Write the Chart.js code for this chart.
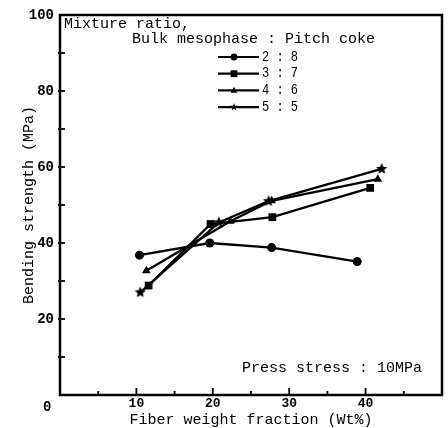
<!DOCTYPE html>
<html>
<head>
<meta charset="utf-8">
<script src="https://cdn.jsdelivr.net/npm/chart.js@4.4.0/dist/chart.umd.min.js"></script>
<style>
  html, body { margin: 0; padding: 0; background: #fff; }
  #wrap { width: 448px; height: 428px; }
</style>
</head>
<body>
<div id="wrap"><canvas id="myChart" width="448" height="428"></canvas></div>
<script>
'use strict';

// mixture ratio (bulk mesophase : pitch coke)
const ratioLabels = ['2 : 8', '3 : 7', '4 : 6', '5 : 5'];

// fiber weight fraction (Wt%) and bending strength (MPa)
const fiber28 = [10.4, 19.6, 27.7, 38.9];
const strength28 = [36.8, 40.0, 38.8, 35.1];
const fiber37 = [11.6, 19.7, 27.8, 40.6];
const strength37 = [28.8, 45.0, 46.8, 54.5];
const fiber46 = [11.3, 22.3, 27.7, 41.6];
const strength46 = [32.7, 45.7, 51.1, 56.8];
const fiber55 = [10.5, 20.8, 27.3, 42.1];
const strength55 = [27.0, 45.4, 51.0, 59.5];

const xTickLabels = ['10', '20', '30', '40'];
const yTickLabels = ['20', '40', '60', '80', '100'];

const FONT = '"Liberation Mono", "DejaVu Sans Mono", monospace';

// filled 5 point star, chart.js 'star' is only strokes
function makeStar(r) {
  const c = document.createElement('canvas');
  c.width = c.height = Math.ceil(r * 2 + 2);
  const g = c.getContext('2d');
  const cx = c.width / 2, cy = c.height / 2;
  g.beginPath();
  for (let i = 0; i < 10; i++) {
    const a = -Math.PI / 2 + i * Math.PI / 5;
    const rr = i % 2 ? r * 0.45 : r;
    g.lineTo(cx + rr * Math.cos(a), cy + rr * Math.sin(a));
  }
  g.closePath();
  g.fillStyle = '#000';
  g.fill();
  return c;
}

function toPoints(xs, ys) {
  return xs.map((x, i) => ({x: x, y: ys[i]}));
}

function series(label, xs, ys, style, radius) {
  return {
    label: label,
    data: toPoints(xs, ys),
    borderColor: '#000',
    backgroundColor: '#000',
    borderWidth: 2.3,
    tension: 0,
    pointStyle: style,
    pointRadius: radius,
    pointBorderWidth: 0,
    pointBackgroundColor: '#000'
  };
}

const datasets = [
  series(ratioLabels[0], fiber28, strength28, 'circle', 4.5),
  series(ratioLabels[1], fiber37, strength37, 'rect', 5.5),
  series(ratioLabels[2], fiber46, strength46, 'triangle', 5),
  series(ratioLabels[3], fiber55, strength55, makeStar(6), 6)
];

function drawMarker(ctx, style, x, y, r) {
  ctx.beginPath();
  if (style === 'circle') {
    ctx.arc(x, y, r, 0, Math.PI * 2);
  } else if (style === 'rect') {
    ctx.rect(x - r, y - r, 2 * r, 2 * r);
  } else if (style === 'triangle') {
    ctx.moveTo(x, y - r * 1.1);
    ctx.lineTo(x + r, y + r * 0.7);
    ctx.lineTo(x - r, y + r * 0.7);
    ctx.closePath();
  } else {
    for (let i = 0; i < 10; i++) {
      const a = -Math.PI / 2 + i * Math.PI / 5;
      const rr = i % 2 ? r * 0.45 : r * 1.2;
      ctx.lineTo(x + rr * Math.cos(a), y + rr * Math.sin(a));
    }
    ctx.closePath();
  }
  ctx.fill();
}

// frame, inward ticks, corner zero and the text block
const decorPlugin = {
  id: 'decor',
  afterDraw(chart) {
    const ctx = chart.ctx;
    const a = chart.chartArea;
    const xs = chart.scales.x, ys = chart.scales.y;
    ctx.save();
    ctx.strokeStyle = '#000';
    ctx.fillStyle = '#000';

    ctx.lineWidth = 2.5;
    ctx.strokeRect(a.left, a.top, a.right - a.left, a.bottom - a.top);

    ctx.lineWidth = 1.8;
    xs.ticks.forEach(t => {
      if (t.value <= xs.min || t.value >= xs.max) return;
      const px = xs.getPixelForValue(t.value);
      const len = t.value % 10 === 0 ? 7 : 4;
      ctx.beginPath();
      ctx.moveTo(px, a.bottom);
      ctx.lineTo(px, a.bottom - len);
      ctx.stroke();
    });
    ys.ticks.forEach(t => {
      if (t.value <= ys.min || t.value >= ys.max) return;
      const py = ys.getPixelForValue(t.value);
      ctx.beginPath();
      ctx.moveTo(a.left - 2, py);
      ctx.lineTo(a.left + 5, py);
      ctx.stroke();
    });

    ctx.textBaseline = 'middle';
    ctx.textAlign = 'left';
    ctx.font = 'bold 14px ' + FONT;
    ctx.fillText('0', 43, 407);

    ctx.font = '15px ' + FONT;
    ctx.fillText('Mixture ratio,', 64, 24, 132);
    ctx.fillText('Bulk mesophase : Pitch coke', 132, 39, 252);

    // legend rows
    ctx.font = '14px ' + FONT;
    chart.data.datasets.forEach((ds, i) => {
      const y = 57 + i * 16.7;
      ctx.lineWidth = 2.2;
      ctx.beginPath();
      ctx.moveTo(218, y);
      ctx.lineTo(259, y);
      ctx.stroke();
      const style = typeof ds.pointStyle === 'string' ? ds.pointStyle : 'star';
      drawMarker(ctx, style, 234, y, 3.4);
      ctx.fillText(ds.label, 262, y, 36);
    });

    ctx.font = '15px ' + FONT;
    ctx.fillText('Press stress : 10MPa', 242, 368, 184);
    ctx.restore();
  }
};

let ctxChart = document.getElementById('myChart');
let chart = new Chart(ctxChart, {
  type: 'line',
  data: { datasets: datasets },
  options: {
    responsive: false,
    animation: false,
    layout: { padding: { top: 15, right: 2, left: 0, bottom: 0 } },
    plugins: { legend: { display: false }, tooltip: { enabled: false } },
    scales: {
      x: {
        type: 'linear',
        min: 0,
        max: 50,
        afterFit: function (scale) { scale.height = 33; },
        grid: { display: false, drawTicks: false },
        border: { display: false },
        ticks: {
          stepSize: 5,
          autoSkip: false,
          maxRotation: 0,
          padding: 1,
          color: '#000',
          font: { family: FONT, size: 13, weight: 'bold' },
          callback: function (v) {
            return xTickLabels.indexOf(String(v)) >= 0 ? String(v) : '';
          }
        },
        title: {
          display: true,
          text: 'Fiber weight fraction (Wt%)',
          color: '#000',
          padding: { top: 0, bottom: -1 },
          font: { family: FONT, size: 15 }
        }
      },
      y: {
        min: 0,
        max: 100,
        afterFit: function (scale) { scale.width = 60; },
        grid: { display: false, drawTicks: false },
        border: { display: false },
        ticks: {
          stepSize: 10,
          autoSkip: false,
          padding: 6,
          color: '#000',
          font: { family: FONT, size: 14, weight: 'bold' },
          callback: function (v) {
            return yTickLabels.indexOf(String(v)) >= 0 ? String(v) : '';
          }
        },
        title: {
          display: true,
          text: 'Bending strength (MPa)',
          color: '#000',
          padding: { top: 20, bottom: 0 },
          font: { family: FONT, size: 15 }
        }
      }
    }
  },
  plugins: [decorPlugin]
});
</script>
</body>
</html>
